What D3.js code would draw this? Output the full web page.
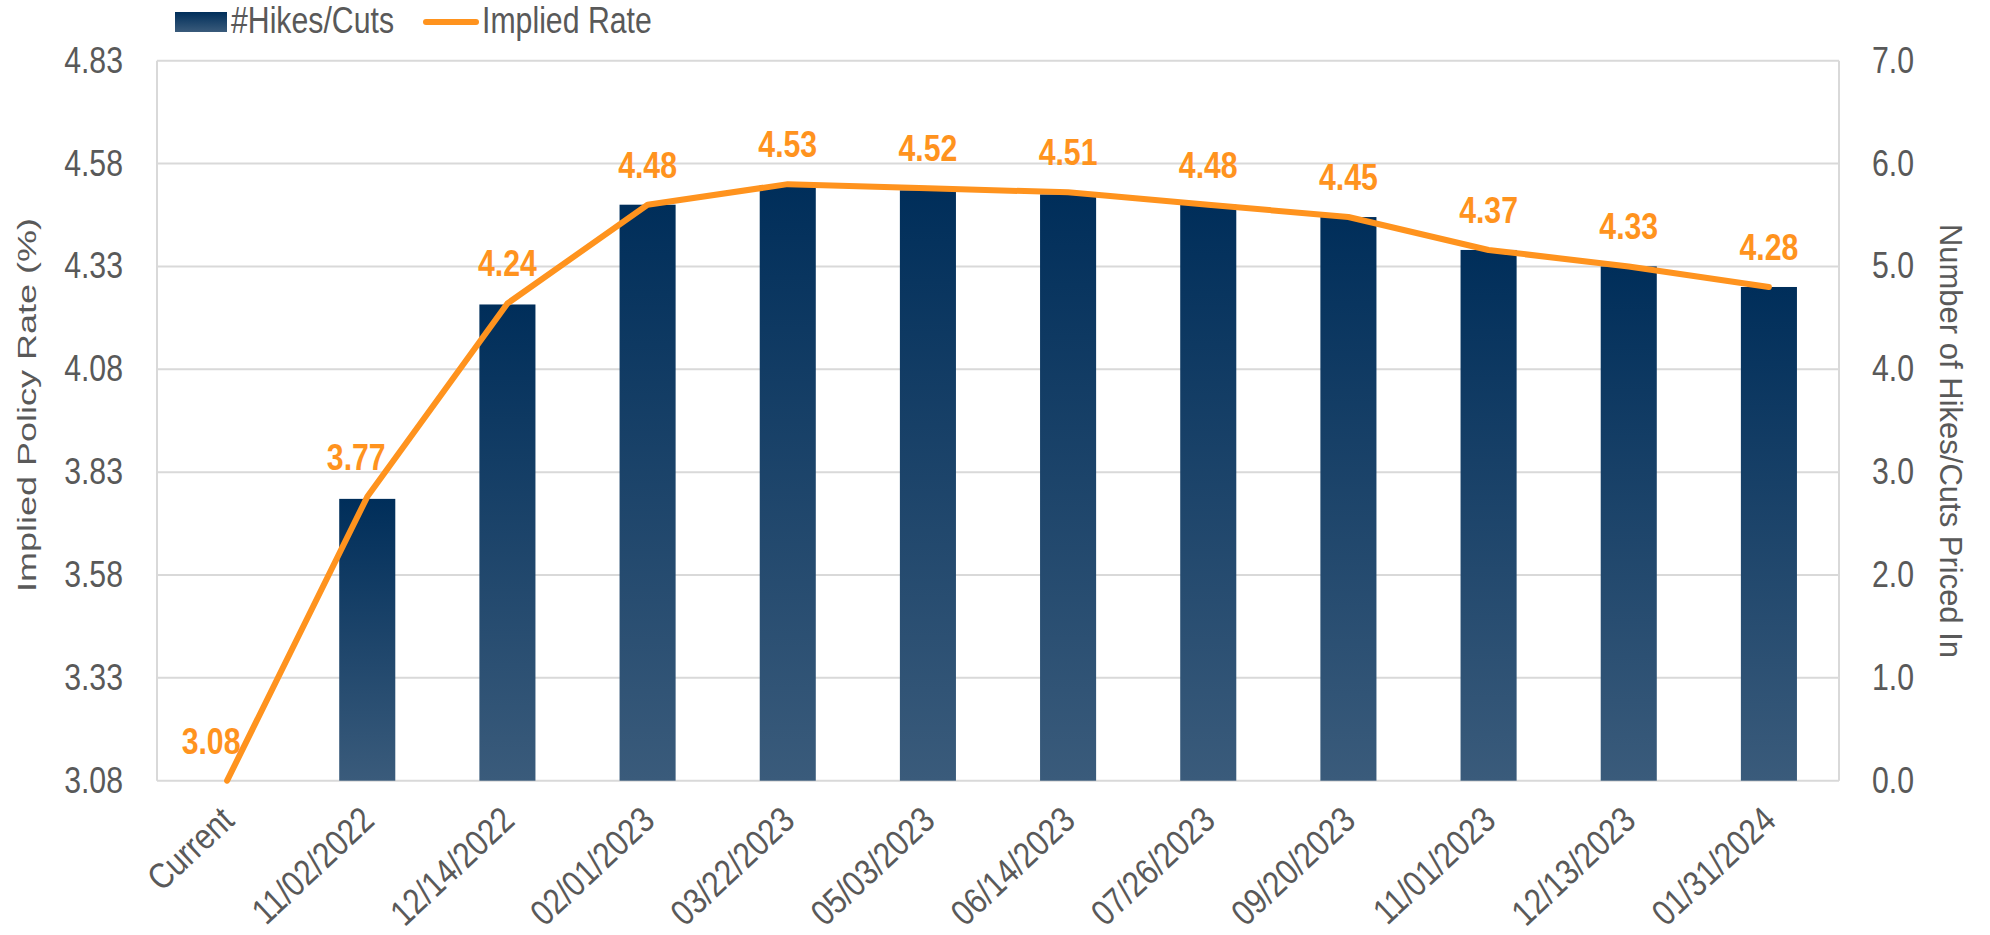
<!DOCTYPE html>
<html>
<head>
<meta charset="utf-8">
<script src="https://cdn.jsdelivr.net/npm/d3@7"></script>
<style>
  html, body { margin: 0; padding: 0; background: #fff; }
  svg { display: block; }
  text { font-family: "Liberation Sans", Arial, sans-serif; }
</style>
</head>
<body>
<svg id="chart" width="1990" height="935"></svg>
<script>
const categories = ["Current", "11/02/2022", "12/14/2022", "02/01/2023", "03/22/2023", "05/03/2023",
  "06/14/2023", "07/26/2023", "09/20/2023", "11/01/2023", "12/13/2023", "01/31/2024"];
const impliedRate = [3.08, 3.77, 4.24, 4.48, 4.53, 4.52, 4.51, 4.48, 4.45, 4.37, 4.33, 4.28];
const hikesCuts = [0, 2.74, 4.63, 5.6, 5.79, 5.74, 5.7, 5.6, 5.48, 5.16, 5.0, 4.8];
const leftTicks = [3.08, 3.33, 3.58, 3.83, 4.08, 4.33, 4.58, 4.83];
const rightTicks = [0, 1, 2, 3, 4, 5, 6, 7];
const seriesNames = ["#Hikes/Cuts", "Implied Rate"];
const axisTitles = ["Implied Policy Rate (%)", "Number of Hikes/Cuts Priced In"];

const svg = d3.select("#chart");
const mLeft = 157, mRight = 1839, mTop = 60.7, mBottom = 780.7;
const orange = "#FF931E";
const grey = "#595959";
const gridColor = "#D9D9D9";
const fs = 36;
const condense = 0.84;
// small manual nudges of two data labels, as in the source chart
const labelNudge = { "Current": -16, "11/02/2022": -11 };

const x = d3.scaleBand().domain(categories).range([mLeft, mRight]).paddingInner(0.6).paddingOuter(0.3);
const yL = d3.scaleLinear().domain([3.08, 4.83]).range([mBottom, mTop]);
const yR = d3.scaleLinear().domain([0, 7]).range([mBottom, mTop]);
const cx = d => x(d) + x.bandwidth() / 2;

function squeeze(sel, k) {
  sel.each(function () {
    const L = this.getComputedTextLength();
    this.setAttribute("textLength", L * k);
    this.setAttribute("lengthAdjust", "spacingAndGlyphs");
  });
}

const defs = svg.append("defs");
const grad = defs.append("linearGradient").attr("id", "barGrad")
  .attr("x1", 0).attr("y1", 0).attr("x2", 0).attr("y2", 1);
grad.append("stop").attr("offset", "0%").attr("stop-color", "#002E5A");
grad.append("stop").attr("offset", "100%").attr("stop-color", "#3A5B7B");

// gridlines
svg.append("g").selectAll("line").data(rightTicks).join("line")
  .attr("x1", mLeft).attr("x2", mRight)
  .attr("y1", d => yR(d)).attr("y2", d => yR(d))
  .attr("stroke", gridColor).attr("stroke-width", 2);
svg.append("line").attr("x1", mLeft).attr("x2", mLeft).attr("y1", mTop).attr("y2", mBottom)
  .attr("stroke", gridColor).attr("stroke-width", 2);
svg.append("line").attr("x1", mRight).attr("x2", mRight).attr("y1", mTop).attr("y2", mBottom)
  .attr("stroke", gridColor).attr("stroke-width", 2);

// bars
svg.append("g").selectAll("rect").data(categories).join("rect")
  .attr("x", d => x(d))
  .attr("width", x.bandwidth())
  .attr("y", (d, i) => yR(hikesCuts[i]))
  .attr("height", (d, i) => yR(0) - yR(hikesCuts[i]))
  .attr("fill", "url(#barGrad)");

// line
const line = d3.line()
  .x((d, i) => cx(categories[i]))
  .y(d => yL(d));
svg.append("path").datum(impliedRate)
  .attr("d", line).attr("fill", "none")
  .attr("stroke", orange).attr("stroke-width", 6)
  .attr("stroke-linejoin", "round").attr("stroke-linecap", "round");

// data labels
const dl = svg.append("g").selectAll("text").data(impliedRate).join("text")
  .attr("x", (d, i) => cx(categories[i]) + (labelNudge[categories[i]] || 0))
  .attr("y", d => yL(d) - 27)
  .attr("text-anchor", "middle")
  .attr("fill", orange).attr("font-weight", "bold").attr("font-size", fs)
  .text(d => d.toFixed(2));
squeeze(dl, condense);

// left axis
const axL = svg.append("g").attr("transform", `translate(${mLeft},0)`)
  .call(d3.axisLeft(yL).tickValues(leftTicks).tickFormat(d3.format(".2f")).tickSize(0).tickPadding(34));
axL.attr("font-family", null).attr("font-size", null);
axL.select(".domain").remove();
axL.selectAll("text").attr("font-size", fs).attr("fill", grey);
squeeze(axL.selectAll("text"), condense);

// right axis
const axR = svg.append("g").attr("transform", `translate(${mRight},0)`)
  .call(d3.axisRight(yR).tickValues(rightTicks).tickFormat(d3.format(".1f")).tickSize(0).tickPadding(33));
axR.attr("font-family", null).attr("font-size", null);
axR.select(".domain").remove();
axR.selectAll("text").attr("font-size", fs).attr("fill", grey);
squeeze(axR.selectAll("text"), condense);

// x labels
const xl = svg.append("g").selectAll("text").data(categories).join("text")
  .attr("transform", d => `translate(${cx(d) + 9},823) rotate(-43)`)
  .attr("text-anchor", "end")
  .attr("font-size", fs).attr("fill", grey)
  .text(d => d);
squeeze(xl, 0.85);

// axis titles
svg.append("text")
  .attr("transform", `translate(36,405) scale(0.73,1) rotate(-90)`)
  .attr("text-anchor", "middle").attr("font-size", fs).attr("fill", grey)
  .text(axisTitles[0]);
svg.append("text")
  .attr("transform", `translate(1940,441) rotate(90)`)
  .attr("text-anchor", "middle").attr("font-size", 31).attr("fill", grey)
  .text(axisTitles[1]);

// legend
const lg = svg.append("g");
lg.append("rect").attr("x", 175).attr("y", 12).attr("width", 52).attr("height", 20).attr("fill", "url(#barGrad)");
const lt1 = lg.append("text").attr("x", 231).attr("y", 33).attr("font-size", fs).attr("fill", grey).text(seriesNames[0]);
lg.append("line").attr("x1", 426).attr("x2", 476).attr("y1", 22).attr("y2", 22)
  .attr("stroke", orange).attr("stroke-width", 6).attr("stroke-linecap", "round");
const lt2 = lg.append("text").attr("x", 482).attr("y", 33).attr("font-size", fs).attr("fill", grey).text(seriesNames[1]);
squeeze(lt1, condense);
squeeze(lt2, condense);
</script>
</body>
</html>
